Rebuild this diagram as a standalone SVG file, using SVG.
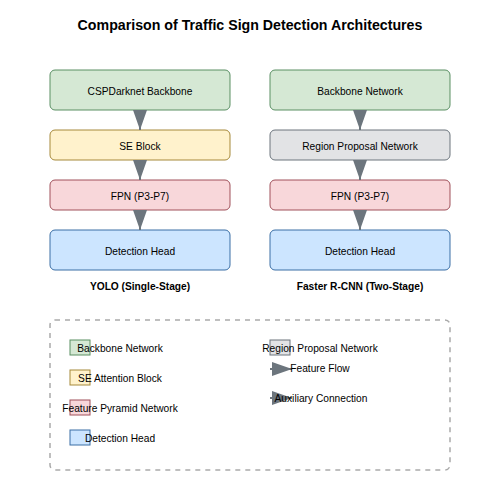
<svg xmlns="http://www.w3.org/2000/svg" width="500" height="500" viewBox="0 0 500 500">
<defs>
<marker id="arrow" markerWidth="10" markerHeight="7" refX="10" refY="3.5" orient="auto">
<polygon points="0 0, 10 3.5, 0 7" fill="#6c757d"/>
</marker>
</defs>
<style>
text{font-family:"Liberation Sans",Arial,sans-serif;fill:#000}
.t{font-size:10.2px;text-anchor:middle}
.title{font-size:14.2px;font-weight:bold;text-anchor:middle}
.lab{font-size:10.2px;font-weight:bold;text-anchor:middle}
.green{fill:#d5e8d4;stroke:#5a8f63;stroke-width:1}
.yellow{fill:#fff2cc;stroke:#a6893a;stroke-width:1}
.red{fill:#f8d7da;stroke:#a0505a;stroke-width:1}
.blue{fill:#cce5ff;stroke:#3a6ea5;stroke-width:1}
.gray{fill:#e2e3e5;stroke:#6c757d;stroke-width:1}
.conn{stroke:#6c757d;stroke-width:2;fill:none;marker-end:url(#arrow)}
</style>
<rect width="500" height="500" fill="#ffffff"/>
<text class="title" x="250" y="30">Comparison of Traffic Sign Detection Architectures</text>

<g id="yolo-backbone"><rect class="green" x="50" y="70" width="180" height="40" rx="5"/><text class="t" x="140" y="94.5">CSPDarknet Backbone</text></g>
<g id="yolo-se"><rect class="yellow" x="50" y="130" width="180" height="30" rx="5"/><text class="t" x="140" y="149.5">SE Block</text></g>
<g id="yolo-fpn"><rect class="red" x="50" y="180" width="180" height="30" rx="5"/><text class="t" x="140" y="199.5">FPN (P3-P7)</text></g>
<g id="yolo-head"><rect class="blue" x="50" y="230" width="180" height="40" rx="5"/><text class="t" x="140" y="254.5">Detection Head</text></g>
<text class="lab" x="140" y="290">YOLO (Single-Stage)</text>

<g id="rcnn-backbone"><rect class="green" x="270" y="70" width="180" height="40" rx="5"/><text class="t" x="360" y="94.5">Backbone Network</text></g>
<g id="rcnn-rpn"><rect class="gray" x="270" y="130" width="180" height="30" rx="5"/><text class="t" x="360" y="149.5">Region Proposal Network</text></g>
<g id="rcnn-fpn"><rect class="red" x="270" y="180" width="180" height="30" rx="5"/><text class="t" x="360" y="199.5">FPN (P3-P7)</text></g>
<g id="rcnn-head"><rect class="blue" x="270" y="230" width="180" height="40" rx="5"/><text class="t" x="360" y="254.5">Detection Head</text></g>
<text class="lab" x="360" y="290">Faster R-CNN (Two-Stage)</text>

<g id="connectors">
<line class="conn" x1="140" y1="110" x2="140" y2="130"/>
<line class="conn" x1="140" y1="160" x2="140" y2="180"/>
<line class="conn" x1="140" y1="210" x2="140" y2="230"/>
<line class="conn" x1="360" y1="110" x2="360" y2="130"/>
<line class="conn" x1="360" y1="160" x2="360" y2="180"/>
<line class="conn" x1="360" y1="210" x2="360" y2="230"/>
</g>

<g id="legend">
<rect x="50" y="320" width="400" height="150" rx="5" fill="none" stroke="#aaaaaa" stroke-width="1.5" stroke-dasharray="5,5"/>
<rect class="green" x="70" y="340" width="20" height="15"/><text class="t" x="120" y="352">Backbone Network</text>
<rect class="yellow" x="70" y="370" width="20" height="15"/><text class="t" x="120" y="382">SE Attention Block</text>
<rect class="red" x="70" y="400" width="20" height="15"/><text class="t" x="120" y="412">Feature Pyramid Network</text>
<rect class="blue" x="70" y="430" width="20" height="15"/><text class="t" x="120" y="442">Detection Head</text>
<rect class="gray" x="270" y="340" width="20" height="15"/><text class="t" x="320" y="352">Region Proposal Network</text>
<line class="conn" x1="270" y1="369" x2="292" y2="369"/><text class="t" x="320" y="372">Feature Flow</text>
<line class="conn" x1="270" y1="398" x2="292" y2="398" stroke-dasharray="4,2"/><text class="t" x="321" y="402">Auxiliary Connection</text>
</g>
</svg>
